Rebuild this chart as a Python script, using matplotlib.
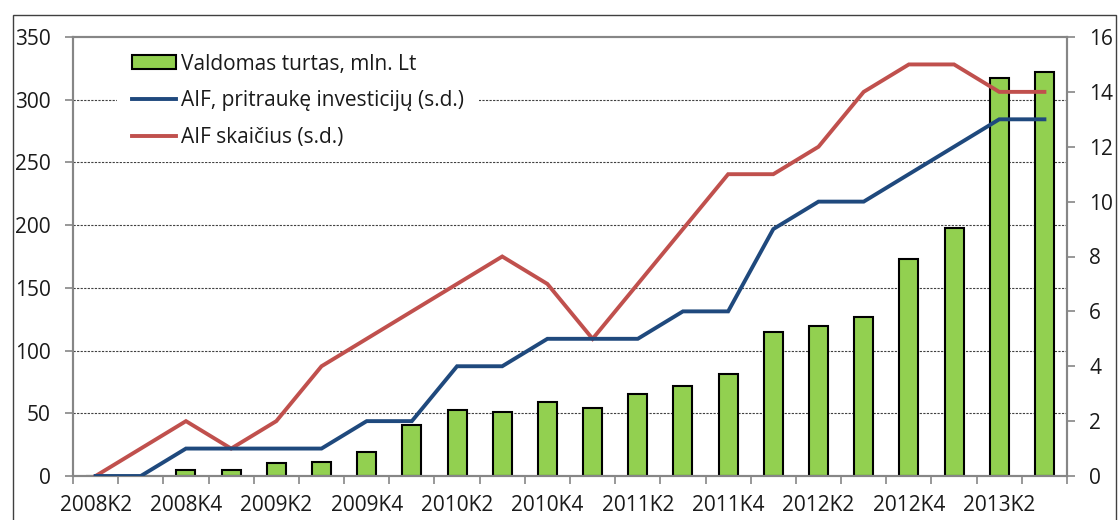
import matplotlib
matplotlib.use("Agg")
import matplotlib.pyplot as plt
import numpy as np
from matplotlib.patches import Rectangle, Patch
from matplotlib.lines import Line2D

plt.rcParams['font.family'] = ['Open Sans', 'DejaVu Sans']

quarters = ["2008K2", "2008K3", "2008K4", "2009K1", "2009K2", "2009K3", "2009K4",
            "2010K1", "2010K2", "2010K3", "2010K4", "2011K1", "2011K2", "2011K3",
            "2011K4", "2012K1", "2012K2", "2012K3", "2012K4", "2013K1", "2013K2", "2013K3"]
assets = [0, 0, 5, 5, 10, 11, 19, 41, 53, 51, 59, 54, 65, 72, 81, 115, 119.5, 127, 173, 198, 317, 322]
aif_invest = [0, 0, 1, 1, 1, 1, 2, 2, 4, 4, 5, 5, 5, 6, 6, 9, 10, 10, 11, 12, 13, 13]
aif_count = [0, 1, 2, 1, 2, 4, 5, 6, 7, 8, 7, 5, 7, 9, 11, 11, 12, 14, 15, 15, 14, 14]

label_assets = "Valdomas turtas, mln. Lt"
label_invest = "AIF, pritraukę investicijų (s.d.)"
label_count = "AIF skaičius (s.d.)"

W, H = 1118, 520
fig = plt.figure(figsize=(W / 100, H / 100), dpi=100)
ax = fig.add_axes([73 / W, 1 - 476 / H, (1067 - 73) / W, (476 - 37) / H])
ax2 = ax.twinx()

x = np.arange(len(quarters))
spine_col = '#868686'
txt_col = '#1a1a1a'

ax.bar(x, assets, width=0.42, color='#92D050', edgecolor='black', linewidth=1.5, zorder=2)
ax.set_ylim(0, 350)
ax.set_yticks(np.arange(0, 351, 50))
ax.set_xlim(-0.5, len(quarters) - 0.5)
ax.set_axisbelow(True)
for v in range(50, 301, 50):
    ax.axhline(v, color='#404040', linewidth=0.8, linestyle=(0, (2, 1.2)), zorder=0)

ax2.plot(x, aif_count, color='#C0504D', linewidth=2.8, solid_joinstyle='miter', zorder=3)
ax2.plot(x, aif_invest, color='#1F497D', linewidth=2.8, solid_joinstyle='miter', zorder=3)
ax2.set_ylim(0, 16)
ax2.set_yticks(np.arange(0, 17, 2))

# x ticks: labels at every second category, tick marks between categories
ax.set_xticks(x[::2])
ax.set_xticklabels(quarters[::2])
ax.set_xticks(np.arange(-0.5, len(quarters), 1.0), minor=True)
fs = 15
lfs = 15
ax.tick_params(axis='x', which='major', length=0, pad=14, labelsize=fs, labelcolor=txt_col)
ax.tick_params(axis='x', which='minor', length=6, width=1.2, color=spine_col, direction='out')
ax.tick_params(axis='y', length=6, width=1.2, color=spine_col, pad=10, labelsize=fs, labelcolor=txt_col)
ax2.tick_params(axis='y', length=6, width=1.2, color=spine_col, pad=10, labelsize=fs, labelcolor=txt_col)

for a in (ax, ax2):
    for s in a.spines.values():
        s.set_color(spine_col)
        s.set_linewidth(1.5)

handles = [Patch(facecolor='#92D050', edgecolor='black', linewidth=1.5),
           Line2D([], [], color='#1F497D', linewidth=2.8),
           Line2D([], [], color='#C0504D', linewidth=2.8)]
leg = ax2.legend(handles, [label_assets, label_invest, label_count],
                 loc='upper left', bbox_to_anchor=(117 / W, 1 - 39 / H),
                 bbox_transform=fig.transFigure, borderaxespad=0,
                 fontsize=lfs, frameon=True, facecolor='white', edgecolor='none',
                 framealpha=1, fancybox=False, borderpad=0.7,
                 handlelength=2.15, handleheight=0.68, handletextpad=0.24,
                 labelspacing=0.75)
for t in leg.get_texts():
    t.set_color(txt_col)

# outer chart border
fig.patches.append(Rectangle((13 / W, -0.05), (1116 - 13) / W, 1.05 - 15 / H,
                             transform=fig.transFigure, fill=False,
                             edgecolor='#404040', linewidth=1.0))

fig.savefig('out.png', dpi=100)
